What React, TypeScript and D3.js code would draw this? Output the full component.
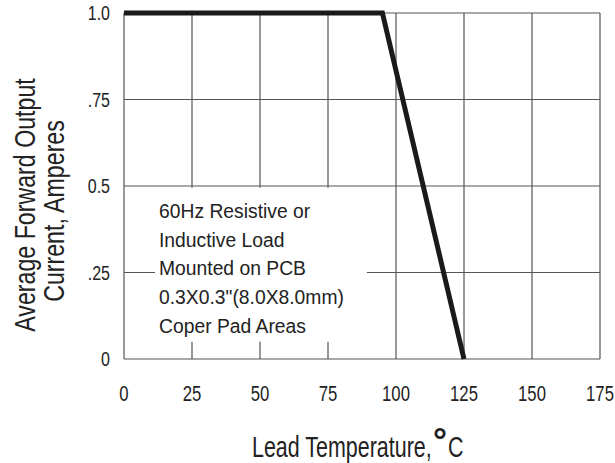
import React from "react";
import * as d3 from "d3";

// derating curve
const tempC = [0, 95, 125];
const currentA = [1.0, 1.0, 0];

const xTicks = [0, 25, 50, 75, 100, 125, 150, 175];
const yTicks = [0, 0.25, 0.5, 0.75, 1.0];
const yTickLabels = ["0", ".25", "0.5", ".75", "1.0"];

const noteLines = [
  "60Hz Resistive or",
  "Inductive Load",
  "Mounted on PCB",
  "0.3X0.3\"(8.0X8.0mm)",
  "Coper Pad Areas",
];

const W = 615;
const H = 463;
const margin = { left: 124, right: 15, top: 13, bottom: 104 };
const font = "'Liberation Sans', Arial, sans-serif";
const gridColor = "#555";
const ink = "#222";

// the original uses a condensed face, so squeeze Liberation Sans sideways
const NText = ({ x, y, sx, rot, anchor, size, children }: any) => (
  <text
    transform={`translate(${x},${y})${rot ? ` rotate(${rot})` : ""} scale(${sx},1)`}
    textAnchor={anchor || "start"}
    fontSize={size}
    fill={ink}
  >
    {children}
  </text>
);

const App = () => {
  const x = d3.scaleLinear().domain([0, 175]).range([margin.left, W - margin.right]);
  const y = d3.scaleLinear().domain([0, 1]).range([H - margin.bottom, margin.top]);

  const line = d3.line<number>()
    .x((d, i) => x(tempC[i]))
    .y(d => y(d));

  // white box behind the note, in data units
  const box = { x0: 11.4, x1: 89.3, y0: 0.05, y1: 0.495 };

  return (
    <svg width={W} height={H} style={{ position: "absolute", left: 0, top: 0, background: "#fff" }}
      fontFamily={font}>
      <g stroke={gridColor} strokeWidth={1.2} fill="none">
        {xTicks.map(t => (
          <line key={"x" + t} x1={x(t)} x2={x(t)} y1={y(0)} y2={y(1)} />
        ))}
        {yTicks.map(t => (
          <line key={"y" + t} x1={x(0)} x2={x(175)} y1={y(t)} y2={y(t)} />
        ))}
      </g>
      <rect x={x(box.x0)} y={y(box.y1)} width={x(box.x1) - x(box.x0)} height={y(box.y0) - y(box.y1)} fill="#fff" />
      <path d={line(currentA) || ""} fill="none" stroke="#1a1a1a" strokeWidth={5} strokeLinejoin="miter" />

      {noteLines.map((s, i) => (
        <NText key={i} x={159} y={218 + i * 28.7} sx={0.92} size={21}>{s}</NText>
      ))}

      {xTicks.map(t => (
        <NText key={t} x={x(t)} y={401} sx={0.76} size={22} anchor="middle">{t}</NText>
      ))}
      {yTicks.map((t, i) => (
        <NText key={t} x={110} y={y(t) + 7} sx={0.8} size={20} anchor="end">{yTickLabels[i]}</NText>
      ))}

      <NText x={252} y={457} sx={0.74} size={29}>Lead Temperature,</NText>
      <text x={433} y={453} fontSize={35} fontWeight="bold" fill={ink}>°</text>
      <NText x={448} y={457} sx={0.74} size={29}>C</NText>

      <NText x={35} y={205} rot={-90} sx={0.8} size={29} anchor="middle">Average Forward Output</NText>
      <NText x={64} y={211} rot={-90} sx={0.8} size={29} anchor="middle">Current, Amperes</NText>
    </svg>
  );
};

export default App;
